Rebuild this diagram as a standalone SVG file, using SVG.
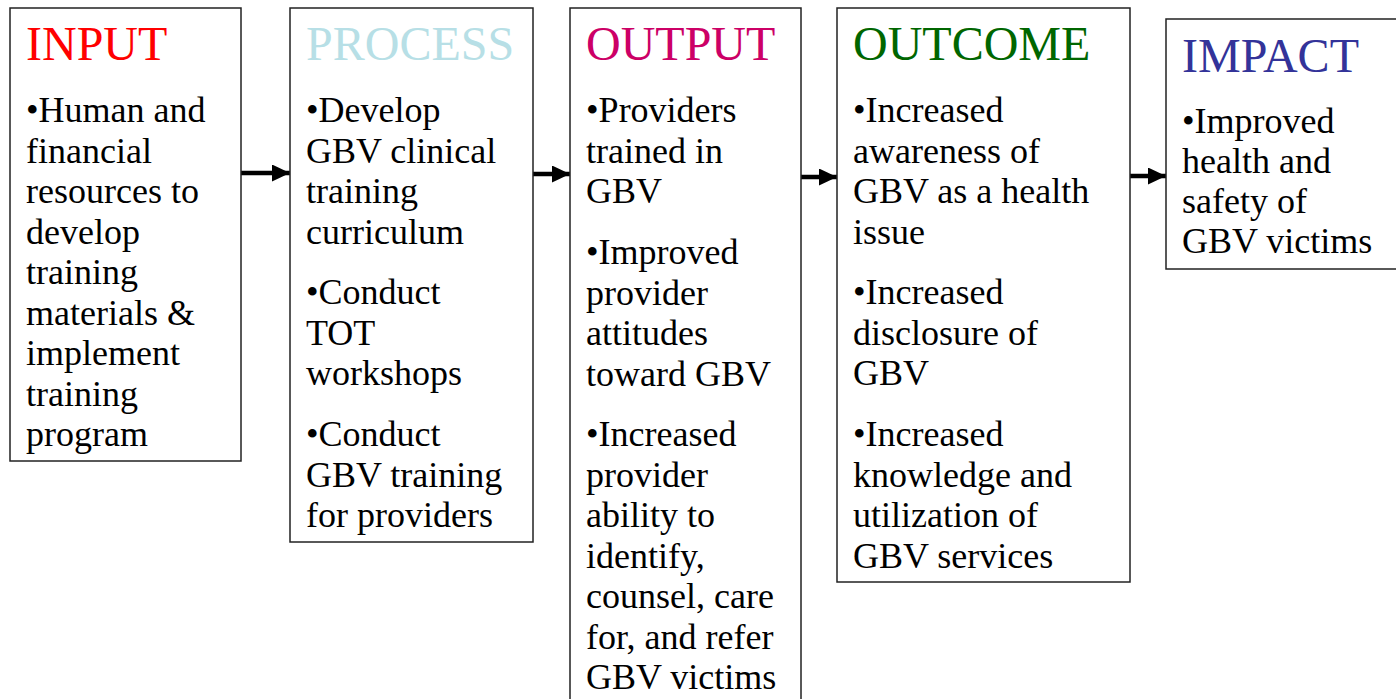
<svg xmlns="http://www.w3.org/2000/svg" width="1396" height="699" viewBox="0 0 1396 699">
<style>
.box{fill:#fff;stroke:#222;stroke-width:1.5}
.h{font-family:"Liberation Serif","Times New Roman",serif;font-size:48px}
.t{font-family:"Liberation Serif","Times New Roman",serif;font-size:36px;fill:#000}
.c{stroke:#000;stroke-width:4.5;fill:none}
</style>
<defs>
<marker id="ah" viewBox="0 0 18 17" refX="18" refY="8.5" markerWidth="18" markerHeight="17" markerUnits="userSpaceOnUse" orient="auto">
<path d="M0,0 L18,8.5 L0,17 Z" fill="#000"/>
</marker>
</defs>
<rect width="1396" height="699" fill="#fff"/>
<g id="connectors">
<line class="c" x1="241" y1="173" x2="290" y2="173" marker-end="url(#ah)"/>
<line class="c" x1="533" y1="174" x2="570" y2="174" marker-end="url(#ah)"/>
<line class="c" x1="801" y1="177" x2="837" y2="177" marker-end="url(#ah)"/>
<line class="c" x1="1130" y1="176" x2="1166" y2="176" marker-end="url(#ah)"/>
</g>
<g id="input">
<rect class="box" x="10" y="8" width="231" height="453"/>
<text class="h" x="26" y="60" fill="#FF0000">INPUT</text>
<text class="t" x="26">
<tspan x="26" y="122">•Human and</tspan>
<tspan x="26" y="162.5">financial</tspan>
<tspan x="26" y="203">resources to</tspan>
<tspan x="26" y="243.5">develop</tspan>
<tspan x="26" y="284">training</tspan>
<tspan x="26" y="324.5">materials &amp;</tspan>
<tspan x="26" y="365">implement</tspan>
<tspan x="26" y="405.5">training</tspan>
<tspan x="26" y="446">program</tspan>
</text>
</g>
<g id="process">
<rect class="box" x="290" y="8" width="243" height="534"/>
<text class="h" x="306" y="60" fill="#B7DFE6">PROCESS</text>
<text class="t">
<tspan x="306" y="122">•Develop</tspan>
<tspan x="306" y="162.5">GBV clinical</tspan>
<tspan x="306" y="203">training</tspan>
<tspan x="306" y="243.5">curriculum</tspan>
<tspan x="306" y="304">•Conduct</tspan>
<tspan x="306" y="344.5">TOT</tspan>
<tspan x="306" y="385">workshops</tspan>
<tspan x="306" y="446">•Conduct</tspan>
<tspan x="306" y="486.5">GBV training</tspan>
<tspan x="306" y="527">for providers</tspan>
</text>
</g>
<g id="output">
<rect class="box" x="570" y="8" width="231" height="700"/>
<text class="h" x="586" y="60" fill="#CC0066">OUTPUT</text>
<text class="t">
<tspan x="586" y="122">•Providers</tspan>
<tspan x="586" y="162.5">trained in</tspan>
<tspan x="586" y="203">GBV</tspan>
<tspan x="586" y="264">•Improved</tspan>
<tspan x="586" y="304.5">provider</tspan>
<tspan x="586" y="345">attitudes</tspan>
<tspan x="586" y="385.5">toward GBV</tspan>
<tspan x="586" y="446">•Increased</tspan>
<tspan x="586" y="486.5">provider</tspan>
<tspan x="586" y="527">ability to</tspan>
<tspan x="586" y="567.5">identify,</tspan>
<tspan x="586" y="608">counsel, care</tspan>
<tspan x="586" y="648.5">for, and refer</tspan>
<tspan x="586" y="689">GBV victims</tspan>
</text>
</g>
<g id="outcome">
<rect class="box" x="837" y="8" width="293" height="574"/>
<text class="h" x="853" y="60" fill="#006600">OUTCOME</text>
<text class="t">
<tspan x="853" y="122">•Increased</tspan>
<tspan x="853" y="162.5">awareness of</tspan>
<tspan x="853" y="203">GBV as a health</tspan>
<tspan x="853" y="243.5">issue</tspan>
<tspan x="853" y="304">•Increased</tspan>
<tspan x="853" y="344.5">disclosure of</tspan>
<tspan x="853" y="385">GBV</tspan>
<tspan x="853" y="446">•Increased</tspan>
<tspan x="853" y="486.5">knowledge and</tspan>
<tspan x="853" y="527">utilization of</tspan>
<tspan x="853" y="567.5">GBV services</tspan>
</text>
</g>
<g id="impact">
<rect class="box" x="1166" y="19" width="240" height="250"/>
<text class="h" x="1182" y="72" fill="#333399">IMPACT</text>
<text class="t">
<tspan x="1182" y="133">•Improved</tspan>
<tspan x="1182" y="173">health and</tspan>
<tspan x="1182" y="213">safety of</tspan>
<tspan x="1182" y="253">GBV victims</tspan>
</text>
</g>
</svg>
